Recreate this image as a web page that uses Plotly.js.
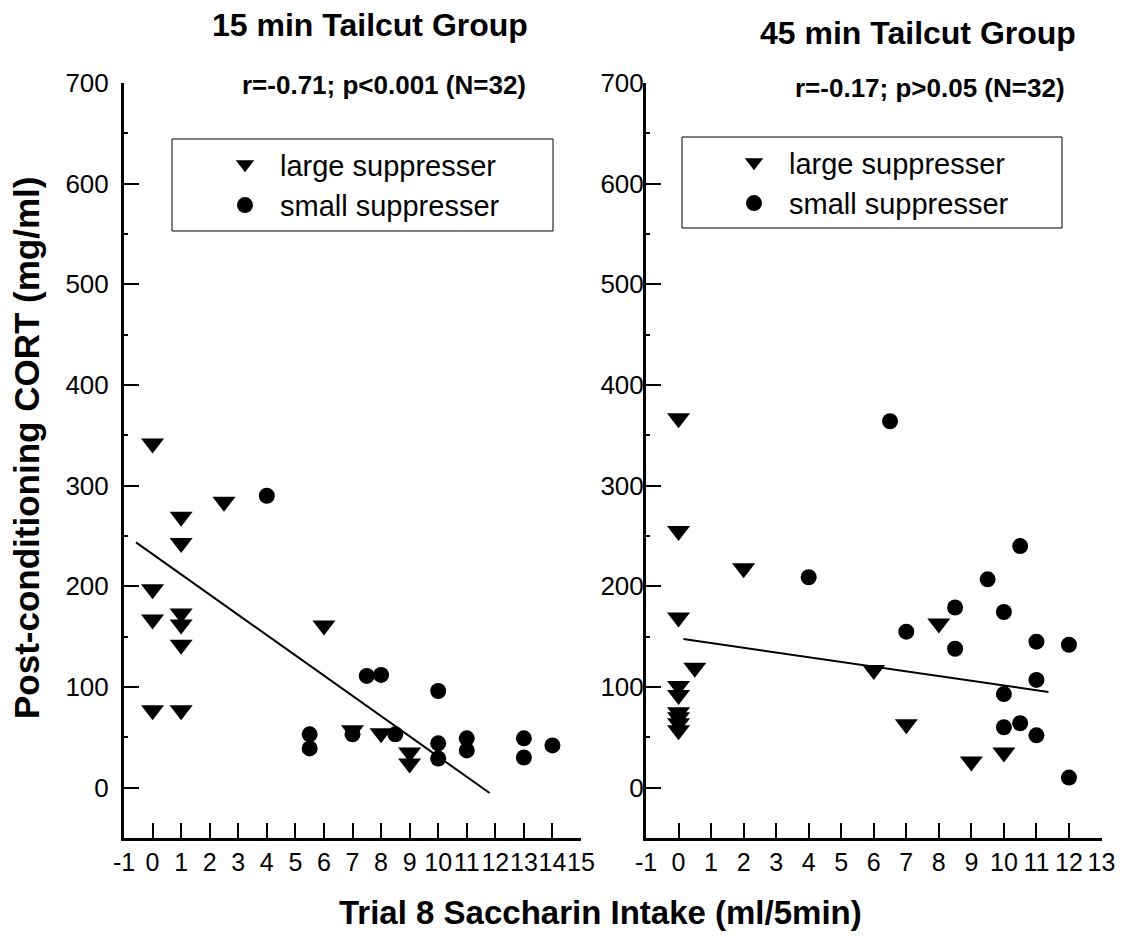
<!DOCTYPE html>
<html>
<head>
<meta charset="utf-8">
<script src="https://cdn.plot.ly/plotly-3.0.1.min.js"></script>
<style>html,body{margin:0;padding:0;background:#fff;}#chart{width:1122px;height:937px;}</style>
</head>
<body>
<div id="chart"></div>
<script>
// ---- Data: 15 min Tailcut Group ----
const g15LargeX = [0, 0, 0, 0, 1, 1, 1, 1, 1, 1, 2.5, 6, 7, 8, 9, 9];
const g15LargeY = [342, 197, 167, 77, 269, 243, 173, 162, 142, 77, 284, 161, 57, 54, 35, 24];
const g15SmallX = [4, 5.5, 5.5, 7, 7.5, 8, 8.5, 10, 10, 10, 11, 11, 13, 13, 14];
const g15SmallY = [290, 53, 39, 53, 111, 112, 53, 96, 44, 29, 49, 37, 49, 30, 42];
const g15FitX = [-0.58, 11.8];
const g15FitY = [243.7, -5.3];

// ---- Data: 45 min Tailcut Group ----
const g45LargeX = [0, 0, 0, 0.5, 0, 0, 0, 0, 0, 0, 2, 6, 7, 8, 9, 10];
const g45LargeY = [367, 255, 169, 119, 101, 92, 75, 70, 64, 57, 218, 117, 63, 163, 26, 35];
const g45SmallX = [6.5, 4, 7, 8.5, 8.5, 9.5, 10, 10.5, 10, 10, 10.5, 11, 11, 11, 12, 12];
const g45SmallY = [364, 209, 155, 179, 138, 207, 174.5, 240, 93, 60, 64, 145, 107, 52, 142, 10];
const g45FitX = [0.15, 11.37];
const g45FitY = [147.7, 95];

// ---- Tick labels ----
const xTickVals15 = [-1, 0, 1, 2, 3, 4, 5, 6, 7, 8, 9, 10, 11, 12, 13, 14, 15];
const xTickText15 = ["-1", "0", "1", "2", "3", "4", "5", "6", "7", "8", "9", "10", "11", "12", "13", "14", "15"];
const xTickVals45 = [-1, 0, 1, 2, 3, 4, 5, 6, 7, 8, 9, 10, 11, 12, 13];
const xTickText45 = ["-1", "0", "1", "2", "3", "4", "5", "6", "7", "8", "9", "10", "11", "12", "13"];
const yTickVals = [0, 100, 200, 300, 400, 500, 600, 700];
const yTickText = ["0", "100", "200", "300", "400", "500", "600", "700"];

// ---- Text ----
const seriesNames = ["large suppresser", "small suppresser"];
const panelTitles = ["15 min Tailcut Group", "45 min Tailcut Group"];
const statTexts = ["r=-0.71; p<0.001 (N=32)", "r=-0.17; p>0.05 (N=32)"];
const xTitle = "Trial 8 Saccharin Intake (ml/5min)";
const yTitle = "Post-conditioning CORT (mg/ml)";

const FONT = "Liberation Sans, Arial, Helvetica, sans-serif";
const W = 1122, H = 937;
const px = v => v / W;
const py = v => 1 - v / H;

const triMarker = {symbol: "triangle-down", size: 20, color: "#000"};
const dotMarker = {symbol: "circle", size: 16, color: "#000"};

const traces = [
  {x: g15LargeX, y: g15LargeY, type: "scatter", mode: "markers", name: seriesNames[0], marker: triMarker, xaxis: "x", yaxis: "y", legend: "legend", cliponaxis: false},
  {x: g15SmallX, y: g15SmallY, type: "scatter", mode: "markers", name: seriesNames[1], marker: dotMarker, xaxis: "x", yaxis: "y", legend: "legend", cliponaxis: false},
  {x: g15FitX, y: g15FitY, type: "scatter", mode: "lines", line: {color: "#000", width: 2}, showlegend: false, xaxis: "x", yaxis: "y"},
  {x: g45LargeX, y: g45LargeY, type: "scatter", mode: "markers", name: seriesNames[0], marker: triMarker, xaxis: "x2", yaxis: "y2", legend: "legend2", cliponaxis: false},
  {x: g45SmallX, y: g45SmallY, type: "scatter", mode: "markers", name: seriesNames[1], marker: dotMarker, xaxis: "x2", yaxis: "y2", legend: "legend2", cliponaxis: false},
  {x: g45FitX, y: g45FitY, type: "scatter", mode: "lines", line: {color: "#000", width: 2}, showlegend: false, xaxis: "x2", yaxis: "y2"}
];

const xBase = {
  showgrid: false, zeroline: false, showline: true, linecolor: "#000", linewidth: 3,
  ticks: "inside", ticklen: 15, tickwidth: 2, tickcolor: "#000",
  tickmode: "array", tickangle: 0, fixedrange: true,
  tickfont: {family: FONT, size: 25, color: "#000"}
};
const yBase = {
  showgrid: false, zeroline: false, showline: true, linecolor: "#000", linewidth: 3,
  ticks: "inside", ticklen: 15, tickwidth: 2, tickcolor: "#000",
  range: [-50, 700], tickmode: "array", tickvals: yTickVals, ticktext: yTickText, fixedrange: true,
  minor: {ticks: "inside", ticklen: 4, tickwidth: 2, tickcolor: "#000", dtick: 50, tick0: 0},
  tickfont: {family: FONT, size: 26, color: "#000"}
};

const layout = {
  width: W, height: H,
  margin: {l: 0, r: 0, t: 0, b: 0},
  paper_bgcolor: "#fff", plot_bgcolor: "rgba(0,0,0,0)",
  showlegend: true,
  xaxis: Object.assign({}, xBase, {domain: [px(124), px(581)], range: [-1, 15], anchor: "y", tickvals: xTickVals15, ticktext: xTickText15}),
  yaxis: Object.assign({}, yBase, {domain: [py(838), py(83)], anchor: "x", ticklabelstandoff: 7}),
  xaxis2: Object.assign({}, xBase, {domain: [px(646), px(1101.5)], range: [-1, 13], anchor: "y2", tickvals: xTickVals45, ticktext: xTickText45}),
  yaxis2: Object.assign({}, yBase, {domain: [py(838), py(83)], anchor: "x2", ticklabelstandoff: -6}),
  legend: {x: px(210), y: py(185), xanchor: "left", yanchor: "middle", bgcolor: "rgba(0,0,0,0)", borderwidth: 0,
           font: {family: FONT, size: 29, color: "#000"}, tracegroupgap: 0, itemwidth: 60},
  legend2: {x: px(719), y: py(183), xanchor: "left", yanchor: "middle", bgcolor: "rgba(0,0,0,0)", borderwidth: 0,
           font: {family: FONT, size: 29, color: "#000"}, tracegroupgap: 0, itemwidth: 60},
  shapes: [
    {type: "rect", xref: "paper", yref: "paper", x0: px(172), x1: px(553), y0: py(231), y1: py(139), line: {color: "#000", width: 1}},
    {type: "rect", xref: "paper", yref: "paper", x0: px(682), x1: px(1062), y0: py(228), y1: py(137), line: {color: "#000", width: 1}}
  ],
  annotations: [
    {text: "<b>" + panelTitles[0] + "</b>", xref: "paper", yref: "paper", x: px(370), y: py(25), showarrow: false, xanchor: "center", yanchor: "middle", font: {family: FONT, size: 32, color: "#000"}},
    {text: "<b>" + panelTitles[1] + "</b>", xref: "paper", yref: "paper", x: px(918), y: py(33), showarrow: false, xanchor: "center", yanchor: "middle", font: {family: FONT, size: 32, color: "#000"}},
    {text: "<b>" + statTexts[0] + "</b>", xref: "paper", yref: "paper", x: px(384), y: py(85), showarrow: false, xanchor: "center", yanchor: "middle", font: {family: FONT, size: 26, color: "#000"}},
    {text: "<b>" + statTexts[1] + "</b>", xref: "paper", yref: "paper", x: px(930), y: py(88), showarrow: false, xanchor: "center", yanchor: "middle", font: {family: FONT, size: 26, color: "#000"}},
    {text: "<b>" + xTitle + "</b>", xref: "paper", yref: "paper", x: px(600), y: py(912), showarrow: false, xanchor: "center", yanchor: "middle", font: {family: FONT, size: 33, color: "#000"}},
    {text: "<b>" + yTitle + "</b>", xref: "paper", yref: "paper", x: px(26), y: py(448), showarrow: false, textangle: -90, xanchor: "center", yanchor: "middle", font: {family: FONT, size: 35, color: "#000"}}
  ]
};

Plotly.newPlot("chart", traces, layout, {staticPlot: true, displayModeBar: false});
</script>
</body>
</html>
